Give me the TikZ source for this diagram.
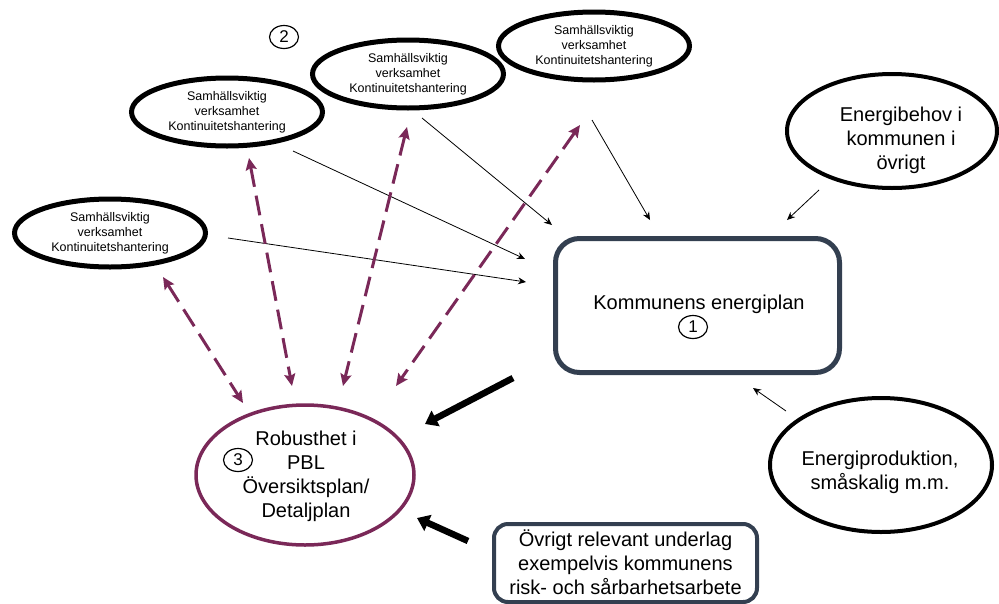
\documentclass[tikz,border=0pt]{standalone}
\usepackage{fontspec}
\setmainfont{Liberation Sans}
\usetikzlibrary{shapes.geometric,arrows.meta}
\definecolor{plum}{RGB}{122,40,88}
\definecolor{slate}{RGB}{51,63,80}
\begin{document}
\begin{tikzpicture}[x=1pt,y=-1pt,
 small/.style={ellipse, draw, line width=5pt, minimum width=191pt, minimum height=68pt, inner sep=0pt, align=center, font=\fontsize{12.5}{15}\selectfont},
 bigtext/.style={align=center, inner sep=0pt, font=\fontsize{20}{24}\selectfont},
 bigell/.style={ellipse, draw, line width=4pt, inner sep=0pt},
 numc/.style={ellipse, draw, line width=1.2pt, minimum width=29pt, minimum height=23pt, inner sep=0pt, font=\fontsize{17}{17}\selectfont},
 thinarrow/.style={-{Stealth[length=8pt,width=7pt]}, line width=0.8pt},
 thickarrow/.style={-{Triangle[length=12pt,width=17pt]}, line width=6.5pt},
 pdash/.style={{Stealth[length=12pt,width=11pt,inset=2pt]}-{Stealth[length=12pt,width=11pt,inset=2pt]}, draw=plum, line width=3pt, dash pattern=on 20pt off 9pt},
]
\useasboundingbox (0,0) rectangle (999,603);

% small ellipses
\node[small] (s1) at (110,233) {Samhällsviktig\\verksamhet\\Kontinuitetshantering};
\node[small] (s2) at (227,112) {Samhällsviktig\\verksamhet\\Kontinuitetshantering};
\node[small] (s3) at (408,74) {Samhällsviktig\\verksamhet\\Kontinuitetshantering};
\node[small] (s4) at (594,46) {Samhällsviktig\\verksamhet\\Kontinuitetshantering};
\node[numc] (n2) at (284,37) {2};

% energy plan
\node[draw=slate, line width=5pt, rounded corners=24pt, minimum width=284pt, minimum height=134pt] (plan) at (697.5,305.5) {};
\node[bigtext] (plantext) at (699,304) {Kommunens energiplan};
\node[numc] (n1) at (693,327) {1};

% energibehov
\node[bigell, minimum width=210pt, minimum height=114pt] (beh) at (892,131) {};
\node[bigtext] (behtext) at (901,140) {Energibehov i\\kommunen i\\övrigt};

% energiproduktion
\node[bigell, minimum width=222pt, minimum height=134pt] (prod) at (881,465) {};
\node[bigtext] (prodtext) at (880,472) {Energiproduktion,\\småskalig m.m.};

% robusthet
\node[ellipse, draw=plum, line width=3.5pt, minimum width=218pt, minimum height=140pt] (rob) at (305,475) {};
\node[bigtext] (robtext) at (306,476) {Robusthet i\\PBL\\Översiktsplan/\\Detaljplan};
\node[numc] (n3) at (238,460) {3};

% övrigt
\node[draw=slate, line width=4pt, rounded corners=14pt, minimum width=263pt, minimum height=78pt] (ovr) at (625.5,563) {};
\node[bigtext] (ovrtext) at (625.5,562.5) {Övrigt relevant underlag\\exempelvis kommunens\\risk- och sårbarhetsarbete};

% arrow end points
\coordinate (a1s) at (228,238); \coordinate (a1e) at (526,282);
\coordinate (a2s) at (293,151); \coordinate (a2e) at (525,259);
\coordinate (a3s) at (422,118); \coordinate (a3e) at (552,225);
\coordinate (a4s) at (592,120); \coordinate (a4e) at (650,220);
\coordinate (a5s) at (819,190); \coordinate (a5e) at (787,220);
\coordinate (a6s) at (786,411); \coordinate (a6e) at (753,388);
\coordinate (b1s) at (513,378); \coordinate (b1e) at (425,424);
\coordinate (b2s) at (468,541); \coordinate (b2e) at (417,518);
\coordinate (d1a) at (163,277); \coordinate (d1b) at (243,403);
\coordinate (d2a) at (249,158); \coordinate (d2b) at (292,386);
\coordinate (d3a) at (407,127); \coordinate (d3b) at (343,386);
\coordinate (d4a) at (580,125); \coordinate (d4b) at (396,386);

\draw[thinarrow] (a1s) -- (a1e);
\draw[thinarrow] (a2s) -- (a2e);
\draw[thinarrow] (a3s) -- (a3e);
\draw[thinarrow] (a4s) -- (a4e);
\draw[thinarrow] (a5s) -- (a5e);
\draw[thinarrow] (a6s) -- (a6e);

\draw[thickarrow] (b1s) -- (b1e);
\draw[thickarrow] (b2s) -- (b2e);

\draw[pdash] (d1a) -- (d1b);
\draw[pdash] (d2a) -- (d2b);
\draw[pdash] (d3a) -- (d3b);
\draw[pdash] (d4a) -- (d4b);
\end{tikzpicture}
\end{document}
